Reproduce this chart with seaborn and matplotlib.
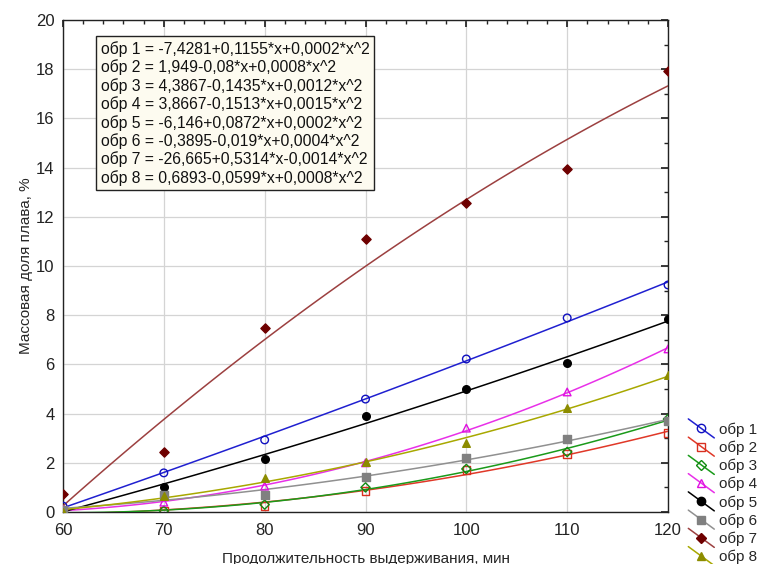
"""
Mass fraction of melt vs. holding time, samples 1-8, with quadratic fits.
"""

import matplotlib
matplotlib.use("Agg")
import matplotlib.pyplot as plt
import seaborn as sns
from matplotlib.lines import Line2D
from matplotlib.legend_handler import HandlerLine2D
from matplotlib.ticker import MultipleLocator

# --- data ---
time_min = [60, 70, 80, 90, 100, 110, 120]

obr1 = [0.24, 1.59, 2.93, 4.59, 6.22, 7.89, 9.23]
obr2 = [0.00, 0.05, 0.25, 0.85, 1.71, 2.36, 3.20]
obr3 = [0.00, 0.05, 0.30, 1.00, 1.75, 2.44, 3.78]
obr4 = [0.10, 0.40, 1.05, 2.00, 3.41, 4.88, 6.63]
obr5 = [0.10, 1.02, 2.15, 3.90, 5.00, 6.06, 7.85]
obr6 = [0.10, 0.69, 0.69, 1.42, 2.20, 2.97, 3.70]
obr7 = [0.73, 2.44, 7.48, 11.10, 12.56, 13.94, 17.93]
obr8 = [0.00, 0.65, 1.38, 2.03, 2.80, 4.23, 5.57]

series_names = ["обр 1", "обр 2", "обр 3", "обр 4", "обр 5", "обр 6", "обр 7", "обр 8"]
series_values = [obr1, obr2, obr3, obr4, obr5, obr6, obr7, obr8]

equations = [
    "обр 1 = -7,4281+0,1155*x+0,0002*x^2",
    "обр 2 = 1,949-0,08*x+0,0008*x^2",
    "обр 3 = 4,3867-0,1435*x+0,0012*x^2",
    "обр 4 = 3,8667-0,1513*x+0,0015*x^2",
    "обр 5 = -6,146+0,0872*x+0,0002*x^2",
    "обр 6 = -0,3895-0,019*x+0,0004*x^2",
    "обр 7 = -26,665+0,5314*x-0,0014*x^2",
    "обр 8 = 0,6893-0,0599*x+0,0008*x^2",
]

# marker, marker colour, filled?, line colour
styles = [
    ("o", "#1010c0", False, "#2020d0"),
    ("s", "#d83020", False, "#e03828"),
    ("D", "#108a10", False, "#1a9a1a"),
    ("^", "#e010e0", False, "#e830e8"),
    ("o", "#000000", True, "#000000"),
    ("s", "#808080", True, "#909090"),
    ("D", "#6e0000", True, "#9c4040"),
    ("^", "#8c8c00", True, "#a8a800"),
]


class SlantedHandler(HandlerLine2D):
    """Legend key drawn as a short diagonal line with the marker in the middle."""

    def create_artists(self, legend, orig_handle, xdescent, ydescent,
                       width, height, fontsize, trans):
        x0, x1 = -xdescent, width - xdescent
        y0, y1 = height - ydescent + 3, -ydescent - 3
        line = Line2D([x0, x1], [y0, y1])
        self.update_prop(line, orig_handle, legend)
        line.set_marker("None")
        mk = Line2D([(x0 + x1) / 2], [(y0 + y1) / 2])
        self.update_prop(mk, orig_handle, legend)
        mk.set_linestyle("None")
        line.set_transform(trans)
        mk.set_transform(trans)
        return [line, mk]


def main() -> None:
    sns.set_theme(style="white")
    plt.rcParams["font.family"] = ["Liberation Sans", "DejaVu Sans"]

    fig = plt.figure(figsize=(7.58, 5.64), dpi=100)
    ax = fig.add_axes([0.0831, 0.0922, 0.7982, 0.8723])

    handles = []
    for name, vals, (mk, mcol, filled, lcol) in zip(series_names, series_values, styles):
        size = 22 if mk == "D" else 30
        sns.regplot(
            x=time_min, y=vals, order=2, ci=None, ax=ax, truncate=True,
            marker=mk,
            scatter_kws=dict(s=size, facecolors=mcol if filled else "none",
                             edgecolors=mcol, linewidths=1.0, alpha=1, zorder=4),
            line_kws=dict(color=lcol, lw=1.1, zorder=3),
        )
        handles.append(Line2D([], [], color=lcol, lw=1.1, marker=mk,
                              markersize=6 if mk != "D" else 5,
                              markerfacecolor=mcol if filled else "none",
                              markeredgecolor=mcol, label=name))

    ax.set_xlim(60, 120)
    ax.set_ylim(0, 20)
    ax.xaxis.set_major_locator(MultipleLocator(10))
    ax.xaxis.set_minor_locator(MultipleLocator(2))
    ax.yaxis.set_major_locator(MultipleLocator(2))
    ax.yaxis.set_minor_locator(MultipleLocator(1))
    ax.grid(True, which="major", color="#d4d4d4", lw=0.9)
    ax.tick_params(which="both", direction="in", top=True, right=True,
                   labelsize=12, colors="#222222")
    ax.tick_params(which="major", length=5)
    ax.tick_params(which="minor", length=3)
    ax.tick_params(axis="x", pad=8)
    ax.tick_params(axis="y", pad=6)
    for sp in ax.spines.values():
        sp.set_color("#222222")
        sp.set_linewidth(1.0)

    ax.set_xlabel("Продолжительность выдерживания, мин", fontsize=11, labelpad=10)
    ax.set_ylabel("Массовая доля плава, %", fontsize=11, labelpad=2)

    ax.text(0.062, 0.957, "\n".join(equations), transform=ax.transAxes,
            va="top", ha="left", fontsize=11.3, linespacing=1.2, color="#111111",
            bbox=dict(boxstyle="square,pad=0.3", fc="#fdfbf0", ec="#222222", lw=1.0),
            zorder=6)

    fig.legend(handles=handles, loc="upper left", bbox_to_anchor=(0.900, 0.262),
               frameon=False, fontsize=11, handlelength=1.7, handletextpad=0.3,
               labelspacing=0.25, borderaxespad=0,
               handler_map={Line2D: SlantedHandler()})

    fig.savefig("out.png", dpi=100)
    plt.close(fig)


if __name__ == "__main__":
    main()
